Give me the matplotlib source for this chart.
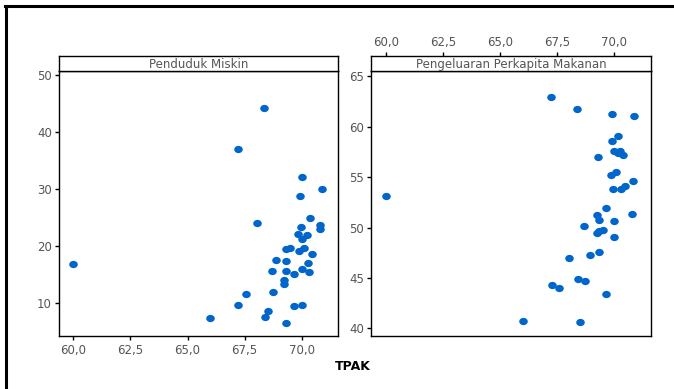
import matplotlib
matplotlib.use("Agg")
import matplotlib.pyplot as plt
from matplotlib.lines import Line2D
from matplotlib.path import Path
from matplotlib.ticker import FuncFormatter

# data (TPAK vs two variables)
tpak_miskin = [68.35, 67.23, 70.0, 70.87, 69.91, 60.0, 68.02, 70.36, 69.96, 70.79,
               70.79, 69.85, 70.22, 70.0, 70.09, 69.48, 69.31, 69.86, 70.47, 68.86,
               69.29, 70.26, 70.0, 68.68, 69.32, 70.32, 69.65, 69.23, 69.23, 67.58,
               68.72, 67.23, 69.65, 70.0, 68.52, 68.41, 66.0, 69.29]
miskin = [44.3, 37.1, 32.2, 30.1, 28.9, 16.95, 24.1, 25.0, 23.4, 23.7,
          23.1, 22.1, 21.9, 21.2, 19.75, 19.75, 19.5, 19.2, 18.7, 17.65,
          17.5, 17.1, 16.07, 15.7, 15.7, 15.55, 15.2, 14.15, 13.45, 11.6,
          11.9, 9.7, 9.6, 9.7, 8.7, 7.6, 7.5, 6.55]

tpak_makanan = [67.22, 68.36, 69.91, 70.88, 70.16, 69.9, 69.99, 70.26, 70.18, 70.38,
                69.28, 70.07, 69.84, 70.84, 70.48, 70.32, 69.96, 60.0, 69.65, 69.23,
                70.78, 69.34, 70.0, 68.67, 69.5, 69.34, 69.23, 70.0, 69.34, 68.92,
                68.04, 68.4, 68.73, 67.28, 67.57, 69.65, 66.02, 68.49]
makanan = [62.98, 61.8, 61.3, 61.1, 59.1, 58.6, 57.6, 57.6, 57.4, 57.2,
           57.0, 55.55, 55.25, 54.65, 54.15, 53.85, 53.85, 53.15, 51.96, 51.27,
           51.37, 50.77, 50.67, 50.18, 49.78, 49.68, 49.48, 49.09, 47.6, 47.3,
           47.0, 44.92, 44.72, 44.33, 44.03, 43.43, 40.75, 40.65]

xticks = [60.0, 62.5, 65.0, 67.5, 70.0]
W, H = 674, 389
grey = "#555555"
blue = "#0066CC"

# slightly wide dot, like the original markers
circ = Path.unit_circle()
dot = Path(circ.vertices * [1.0, 0.85], circ.codes)

fig = plt.figure(figsize=(W / 100, H / 100), dpi=100)

def box(x0, y0, x1, y1):
    # pixel box (top-left origin) -> figure fraction rect
    return [x0 / W, (H - y1) / H, (x1 - x0) / W, (y1 - y0) / H]

comma = FuncFormatter(lambda v, p: ("%.1f" % v).replace(".", ","))

def panel(x0, x1, title, xs, ys, ylim, yticks, xbottom):
    ax = fig.add_axes(box(x0, 71.3, x1, 336))
    strip = fig.add_axes(box(x0, 55.7, x1, 71.3))
    for a in (ax, strip):
        a.set_xlim(59.36, 71.6)
        for s in a.spines.values():
            s.set_color("black")
            s.set_linewidth(1)
    strip.set_yticks([])
    strip.text(0.5, 0.45, title, transform=strip.transAxes, ha="center", va="center",
               fontsize=8.5, color=grey)
    ax.scatter(xs, ys, s=38, color=blue, marker=dot, linewidths=0, zorder=3)
    ax.set_ylim(*ylim)
    ax.set_yticks(yticks)
    ax.tick_params(axis="y", direction="out", length=3, width=1, labelsize=8.5,
                   labelcolor=grey, pad=2)
    if xbottom:
        strip.set_xticks([])
        ax.set_xticks(xticks)
        ax.xaxis.set_major_formatter(comma)
        ax.tick_params(axis="x", direction="out", length=3, width=1, labelsize=8.5,
                       labelcolor=grey, pad=3)
    else:
        ax.set_xticks([])
        strip.set_xticks(xticks)
        strip.xaxis.set_major_formatter(comma)
        strip.xaxis.tick_top()
        strip.tick_params(axis="x", direction="out", length=3, width=1, labelsize=8.5,
                          labelcolor=grey, pad=2)
    return ax

panel(58.7, 338.3, "Penduduk Miskin", tpak_miskin, miskin,
      (4.26, 50.7), [10, 20, 30, 40, 50], True)
panel(371.3, 650.7, "Pengeluaran Perkapita Makanan", tpak_makanan, makanan,
      (39.24, 65.5), [40, 45, 50, 55, 60, 65], False)

fig.text(353 / W, 1 - 366 / H, "TPAK", ha="center", va="center",
         fontsize=9, fontweight="bold", color="black")

# outer frame (top and left edges)
fig.add_artist(Line2D([5 / W, 1], [1 - 5.5 / H] * 2, color="black", lw=2.2,
                      transform=fig.transFigure))
fig.add_artist(Line2D([6 / W] * 2, [1 - 5.5 / H, 0], color="black", lw=2.2,
                      transform=fig.transFigure))

fig.savefig("out.png", dpi=100)
